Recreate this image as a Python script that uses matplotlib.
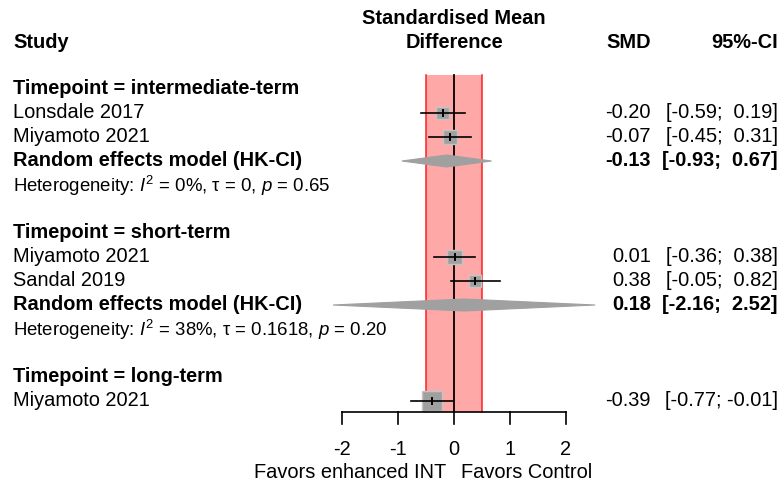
import matplotlib
matplotlib.use("Agg")
import matplotlib.pyplot as plt
from matplotlib.patches import Rectangle, Polygon
from matplotlib.transforms import blended_transform_factory

plt.rcParams['font.family'] = ['Liberation Sans', 'DejaVu Sans']
plt.rcParams['mathtext.fontset'] = 'custom'
plt.rcParams['mathtext.rm'] = 'Liberation Sans'
plt.rcParams['mathtext.it'] = 'Liberation Sans:italic'

# study rows
studies = ["Lonsdale 2017", "Miyamoto 2021", "Miyamoto 2021", "Sandal 2019", "Miyamoto 2021"]
study_group = [0, 0, 1, 1, 2]
smd = [-0.20, -0.07, 0.01, 0.38, -0.39]
lower = [-0.59, -0.45, -0.36, -0.05, -0.77]
upper = [0.19, 0.31, 0.38, 0.82, -0.01]
weight = [42, 52, 57, 40, 100]

# subgroups
groups = ["Timepoint = intermediate-term", "Timepoint = short-term", "Timepoint = long-term"]
re_smd = [-0.13, 0.18, None]
re_lower = [-0.93, -2.16, None]
re_upper = [0.67, 2.52, None]
het_i2 = ["0%", "38%", None]
het_tau = ["0", "0.1618", None]
het_p = ["0.65", "0.20", None]

ticks = [-2, -1, 0, 1, 2]
band = (-0.5, 0.5)

fig = plt.figure(figsize=(7.84, 4.86), dpi=100)
ax = fig.add_axes([0, 0, 1, 1])
ax.set_xlim(-342 / 56 - 2, (784 - 342) / 56 - 2)
ax.set_ylim((486 - 89) / 24, -89 / 24)
ax.axis('off')

tr = blended_transform_factory(ax.transAxes, ax.transData)
fs = 14.4
fs_het = 13.4
gray = '#a0a0a0'


def fmt(v):
    return "%.2f" % v


def ci_text(lo, hi):
    hi_s = fmt(hi) if hi < 0 else " " + fmt(hi)
    return "[%s; %s]" % (fmt(lo), hi_s)


# layout rows
rows = []
row = 0
for g in range(len(groups)):
    rows.append(("group", g, row))
    row += 1
    for i in range(len(studies)):
        if study_group[i] == g:
            rows.append(("study", i, row))
            row += 1
    if re_smd[g] is not None:
        rows.append(("re", g, row))
        row += 1
        rows.append(("het", g, row))
        row += 2

last_row = row - 1
axis_y = last_row + 0.46
top_y = -0.58

# reference band and line
ax.add_patch(Rectangle((band[0], top_y), band[1] - band[0], axis_y - top_y,
                       facecolor='#ffa8a8', edgecolor='none', zorder=1))
for b in band:
    ax.plot([b, b], [top_y, axis_y], color='#ff2020', lw=1.1, zorder=2)
ax.plot([0, 0], [top_y, axis_y], color='black', lw=1.3, zorder=3)

# headers
ax.text(13 / 784, -1.92, "Study", transform=tr, fontsize=fs, fontweight='bold', va='center', ha='left')
ax.text(0, -2.95, "Standardised Mean", fontsize=fs, fontweight='bold', va='center', ha='center')
ax.text(0, -1.95, "Difference", fontsize=fs, fontweight='bold', va='center', ha='center')
ax.text(651 / 784, -1.92, "SMD", transform=tr, fontsize=fs, fontweight='bold', va='center', ha='right')
ax.text(778 / 784, -1.92, "95%-CI", transform=tr, fontsize=fs, fontweight='bold', va='center', ha='right')

for kind, k, y in rows:
    if kind == "group":
        ax.text(13 / 784, y, groups[k], transform=tr, fontsize=fs, fontweight='bold', va='center')
    elif kind == "study":
        ax.text(13 / 784, y, studies[k], transform=tr, fontsize=fs, va='center')
        ax.text(651 / 784, y, fmt(smd[k]), transform=tr, fontsize=fs, va='center', ha='right')
        ax.text(778 / 784, y, ci_text(lower[k], upper[k]), transform=tr, fontsize=fs,
                va='center', ha='right')
        side = 19.5 * (weight[k] / 100) ** 0.5
        ax.add_patch(Rectangle((smd[k] - side / 2 / 56, y - side / 2 / 24), side / 56, side / 24,
                               facecolor=gray, edgecolor='#c4c4c4', lw=1.0, zorder=4))
        ax.plot([lower[k], upper[k]], [y, y], color='black', lw=1.2, zorder=5)
        ax.plot([smd[k], smd[k]], [y - 0.11, y + 0.11], color='black', lw=1.4, zorder=5)
    elif kind == "re":
        ax.text(13 / 784, y, "Random effects model (HK-CI)", transform=tr, fontsize=fs,
                fontweight='bold', va='center')
        ax.text(651 / 784, y, fmt(re_smd[k]), transform=tr, fontsize=fs, fontweight='bold',
                va='center', ha='right')
        ax.text(778 / 784, y, ci_text(re_lower[k], re_upper[k]), transform=tr, fontsize=fs,
                fontweight='bold', va='center', ha='right')
        h = 0.25
        ax.add_patch(Polygon([(re_lower[k], y), (re_smd[k], y - h), (re_upper[k], y),
                              (re_smd[k], y + h)], closed=True, facecolor=gray,
                             edgecolor=gray, lw=0.8, zorder=4))
    elif kind == "het":
        ax.text(13 / 784, y + 0.05,
                "Heterogeneity: $I^2$ = %s, \u03c4 = %s, $p$ = %s" % (het_i2[k], het_tau[k], het_p[k]),
                transform=tr, fontsize=fs_het, va='center')

# x axis
ax.plot([ticks[0], ticks[-1]], [axis_y, axis_y], color='black', lw=1.2, zorder=5)
for t in ticks:
    ax.plot([t, t], [axis_y, axis_y + 0.5], color='black', lw=1.2, zorder=5)
    ax.text(t, axis_y + 1.55, str(t), fontsize=fs, ha='center', va='center')

ax.text(-0.14, axis_y + 2.5, "Favors enhanced INT", fontsize=fs, ha='right', va='center')
ax.text(0.12, axis_y + 2.5, "Favors Control", fontsize=fs, ha='left', va='center')

fig.savefig("out.png", dpi=100)
